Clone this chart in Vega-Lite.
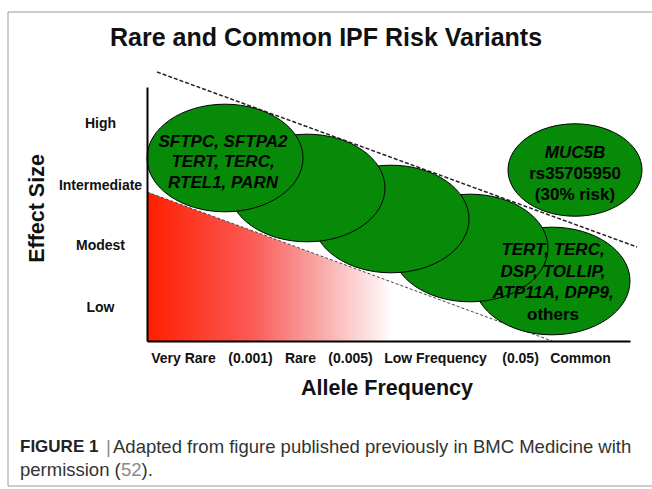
{
  "$schema": "https://vega.github.io/schema/vega-lite/v6.json",
  "width": 483,
  "height": 254,
  "autosize": {"type": "none"},
  "padding": {"left": 147, "top": 87, "right": 22, "bottom": 148},
  "background": "white",
  "config": {"view": {"stroke": null}, "font": "Liberation Sans"},
  "title": {
    "text": "Rare and Common IPF Risk Variants",
    "font": "Liberation Sans",
    "fontSize": 25,
    "fontWeight": "bold",
    "color": "#111111",
    "anchor": "middle",
    "frame": "group",
    "dx": -62.5,
    "baseline": "middle",
    "offset": 0,
    "dy": 51.5
  },
  "encoding": {
    "x": {
      "field": "x",
      "type": "quantitative",
      "scale": {"domain": [147, 630], "nice": false, "zero": false},
      "axis": {
        "values": [183, 250, 300, 350, 435, 520, 580],
        "labelExpr": "datum.value==183?'Very Rare':datum.value==250?'(0.001)':datum.value==300?'Rare':datum.value==350?'(0.005)':datum.value==435?'Low Frequency':datum.value==520?'(0.05)':'Common'",
        "labelFont": "Liberation Sans",
        "labelFontSize": 14,
        "labelFontWeight": "bold",
        "labelColor": "#111111",
        "labelBaseline": "middle",
        "labelAlign": "center",
        "labelPadding": 17,
        "labelOverlap": false,
        "labelFlush": false,
        "labelBound": false,
        "ticks": false,
        "tickSize": 0,
        "grid": false,
        "domainColor": "#000000",
        "domainWidth": 2,
        "title": "Allele Frequency",
        "titleFont": "Liberation Sans",
        "titleFontSize": 21.5,
        "titleFontWeight": "bold",
        "titleColor": "#111111",
        "titleX": 239.5,
        "titleY": 47,
        "titleBaseline": "middle",
        "titleAlign": "center",
        "zindex": 1
      }
    },
    "y": {
      "field": "y",
      "type": "quantitative",
      "scale": {"domain": [87, 341], "nice": false, "zero": false, "reverse": true},
      "axis": {
        "values": [123, 185, 245, 307],
        "labelExpr": "datum.value==123?'High':datum.value==185?'Intermediate':datum.value==245?'Modest':'Low'",
        "labelFont": "Liberation Sans",
        "labelFontSize": 14,
        "labelFontWeight": "bold",
        "labelColor": "#111111",
        "labelAlign": "center",
        "labelBaseline": "middle",
        "labelPadding": 47,
        "labelOverlap": false,
        "labelFlush": false,
        "labelBound": false,
        "ticks": false,
        "tickSize": 0,
        "grid": false,
        "domainColor": "#000000",
        "domainWidth": 2,
        "title": "Effect Size",
        "titleFont": "Liberation Sans",
        "titleFontSize": 21.5,
        "titleFontWeight": "bold",
        "titleColor": "#111111",
        "titleX": -110,
        "titleY": 121,
        "titleAngle": -90,
        "titleBaseline": "middle",
        "titleAlign": "center",
        "zindex": 1
      }
    }
  },
  "layer": [
    {
      "data": {"values": [{"x": 8, "x2": 700, "y": 12, "y2": 486}]},
      "mark": {"type": "rect", "filled": false, "stroke": "#9a9a9a", "strokeWidth": 1},
      "encoding": {"x2": {"field": "x2"}, "y2": {"field": "y2"}}
    },
    {
      "data": {"values": [{"x": 147, "y": 192, "y2": 341}, {"x": 550, "y": 341, "y2": 341}]},
      "mark": {
        "type": "area",
        "color": {
          "gradient": "linear",
          "x1": 0, "y1": 0, "x2": 1, "y2": 0,
          "stops": [
            {"offset": 0, "color": "#ff1e00"},
            {"offset": 0.26, "color": "#fb5a55"},
            {"offset": 0.43, "color": "#f9a8a8"},
            {"offset": 0.61, "color": "#ffffff"},
            {"offset": 1, "color": "#ffffff"}
          ]
        }
      },
      "encoding": {"y2": {"field": "y2"}}
    },
    {
      "data": {"values": [{"x": 147, "y": 192}, {"x": 552, "y": 341}]},
      "mark": {"type": "line", "color": "#444444", "strokeWidth": 1, "strokeDash": [3, 2]},
      "encoding": {}
    },
    {
      "data": {"values": [
        {"name": "common-low", "x": 552, "y": 281},
        {"name": "low-frequency", "x": 470, "y": 248},
        {"name": "rare", "x": 391, "y": 219},
        {"name": "rare-2", "x": 307, "y": 188},
        {"name": "very-rare", "x": 225, "y": 158}
      ]},
      "mark": {
        "type": "point",
        "shape": "M-1,0C-1,-0.381,-0.552,-0.69,0,-0.69C0.552,-0.69,1,-0.381,1,0C1,0.381,0.552,0.69,0,0.69C-0.552,0.69,-1,0.381,-1,0Z",
        "size": 24336,
        "filled": true,
        "fill": "#078a07",
        "stroke": "#000000",
        "strokeWidth": 1,
        "opacity": 1,
        "fillOpacity": 1
      },
      "encoding": {}
    },
    {
      "data": {"values": [{"name": "MUC5B", "x": 575, "y": 170}]},
      "mark": {
        "type": "point",
        "shape": "M-1,0C-1,-0.381,-0.552,-0.69,0,-0.69C0.552,-0.69,1,-0.381,1,0C1,0.381,0.552,0.69,0,0.69C-0.552,0.69,-1,0.381,-1,0Z",
        "size": 17956,
        "filled": true,
        "fill": "#078a07",
        "stroke": "#000000",
        "strokeWidth": 1,
        "opacity": 1,
        "fillOpacity": 1
      },
      "encoding": {}
    },
    {
      "data": {"values": [{"x": 157, "y": 72}, {"x": 637, "y": 247}]},
      "mark": {"type": "line", "color": "#222222", "strokeWidth": 1.5, "strokeDash": [4, 2]},
      "encoding": {}
    },
    {
      "data": {"values": [
        {"label": "SFTPC, SFTPA2", "x": 223, "y": 142},
        {"label": "TERT, TERC,", "x": 223, "y": 162},
        {"label": "RTEL1, PARN", "x": 223, "y": 183},
        {"label": "TERT, TERC,", "x": 553, "y": 250},
        {"label": "DSP, TOLLIP,", "x": 553, "y": 272},
        {"label": "ATP11A, DPP9,", "x": 553, "y": 293},
        {"label": "MUC5B", "x": 575, "y": 153}
      ]},
      "mark": {"type": "text", "font": "Liberation Sans", "fontSize": 17, "fontWeight": "bold", "fontStyle": "italic", "color": "#000000", "align": "center", "baseline": "middle"},
      "encoding": {"text": {"field": "label"}}
    },
    {
      "data": {"values": [
        {"label": "others", "x": 553, "y": 315},
        {"label": "rs35705950", "x": 575, "y": 174},
        {"label": "(30% risk)", "x": 575, "y": 195}
      ]},
      "mark": {"type": "text", "font": "Liberation Sans", "fontSize": 17, "fontWeight": "bold", "color": "#000000", "align": "center", "baseline": "middle"},
      "encoding": {"text": {"field": "label"}}
    },
    {
      "data": {"values": [{"label": "FIGURE 1", "x": 20, "y": 447}]},
      "mark": {"type": "text", "font": "Liberation Sans", "fontSize": 17, "fontWeight": "bold", "color": "#222222", "align": "left", "baseline": "middle"},
      "encoding": {"text": {"field": "label"}}
    },
    {
      "data": {"values": [
        {"label": "Adapted from figure published previously in BMC Medicine with", "x": 113, "y": 447},
        {"label": "permission (", "x": 20, "y": 470},
        {"label": ").", "x": 141.5, "y": 470}
      ]},
      "mark": {"type": "text", "font": "Liberation Sans", "fontSize": 18.5, "color": "#333333", "align": "left", "baseline": "middle"},
      "encoding": {"text": {"field": "label"}}
    },
    {
      "data": {"values": [
        {"label": "|", "x": 106, "y": 447},
        {"label": "52", "x": 121, "y": 470}
      ]},
      "mark": {"type": "text", "font": "Liberation Sans", "fontSize": 18.5, "color": "#8a8a8a", "align": "left", "baseline": "middle"},
      "encoding": {"text": {"field": "label"}}
    }
  ]
}
